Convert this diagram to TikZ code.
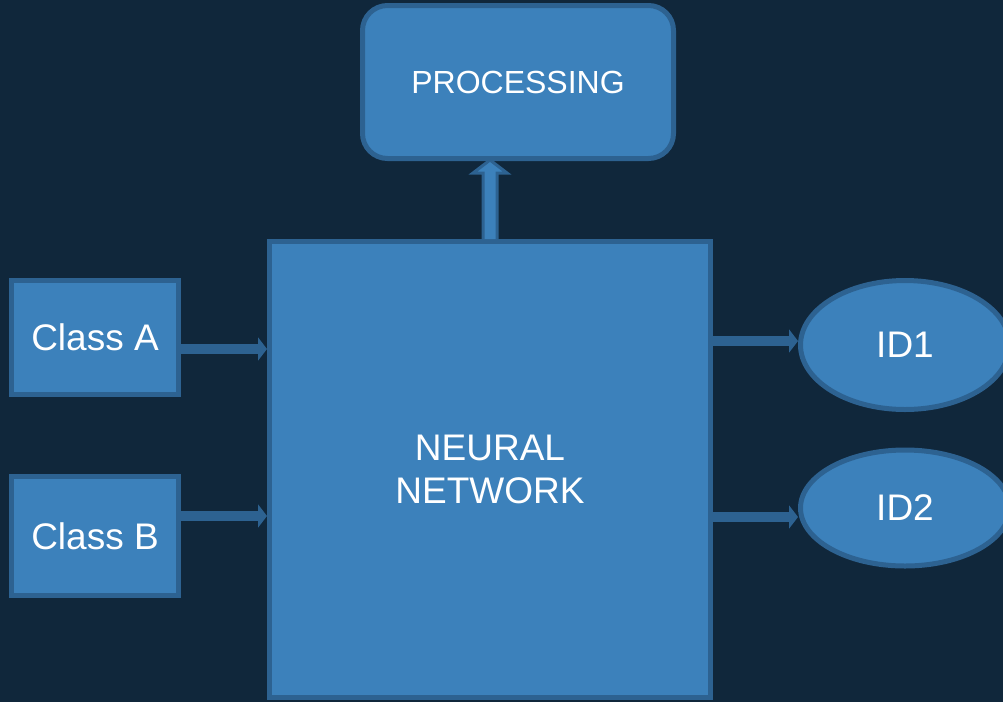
\documentclass[tikz,border=0pt]{standalone}
\usepackage{fontspec}
\setmainfont{Liberation Sans}
\usetikzlibrary{shapes.geometric,arrows.meta}
\definecolor{bgc}{HTML}{10273B}
\definecolor{fillc}{HTML}{3C81BB}
\definecolor{edgec}{HTML}{2D6291}
\tikzset{
  box/.style={draw=edgec, fill=fillc, line width=5pt, inner sep=0pt, text=white, align=center},
  oval/.style={box, ellipse},
  conn/.style={draw=edgec, line width=10pt, -{Triangle[length=9pt,width=23pt]}},
  lbl/.style={font=\fontsize{37}{43}\selectfont}
}
\begin{document}
\begin{tikzpicture}[x=1pt,y=-1pt]
\fill[bgc] (0,0) rectangle (1003,702);
\useasboundingbox (0,0) rectangle (1003,702);
\clip (0,0) rectangle (1003,702);
\node[box, rounded corners=25pt, minimum width=311pt, minimum height=153pt, font=\fontsize{32}{38}\selectfont] (proc) at (518,82) {PROCESSING};
\node[box, lbl, minimum width=441pt, minimum height=456pt] (nn) at (490,469.5) {NEURAL\\NETWORK};
\node[box, lbl, minimum width=167pt, minimum height=114pt] (ca) at (95,337) {Class A};
\node[box, lbl, minimum width=167pt, minimum height=119pt] (cb) at (95,536) {Class B};
\node[oval, lbl, minimum width=209pt, minimum height=129pt] (id1) at (905,345) {ID1};
\node[oval, lbl, minimum width=209pt, minimum height=116pt] (id2) at (905,508) {ID2};
\coordinate (tip) at (nn.north |- proc.south);
\draw[conn] (ca.east |- 0,349) -- (nn.west |- 0,349);
\draw[conn] (cb.east |- 0,516) -- (nn.west |- 0,516);
\draw[conn] (nn.east |- 0,341) -- (id1.west |- 0,341);
\draw[conn] (nn.east |- 0,517) -- (798,517);
\draw[draw=edgec, fill=fillc, line width=3pt, line join=miter]
  ([xshift=-7pt]nn.north) -- ([xshift=-7pt,yshift=66pt]nn.north) -- ([xshift=-17pt,yshift=66pt]nn.north)
  -- ([yshift=1pt]tip) -- ([xshift=17pt,yshift=66pt]nn.north) -- ([xshift=7pt,yshift=66pt]nn.north)
  -- ([xshift=7pt]nn.north);
\end{tikzpicture}
\end{document}
